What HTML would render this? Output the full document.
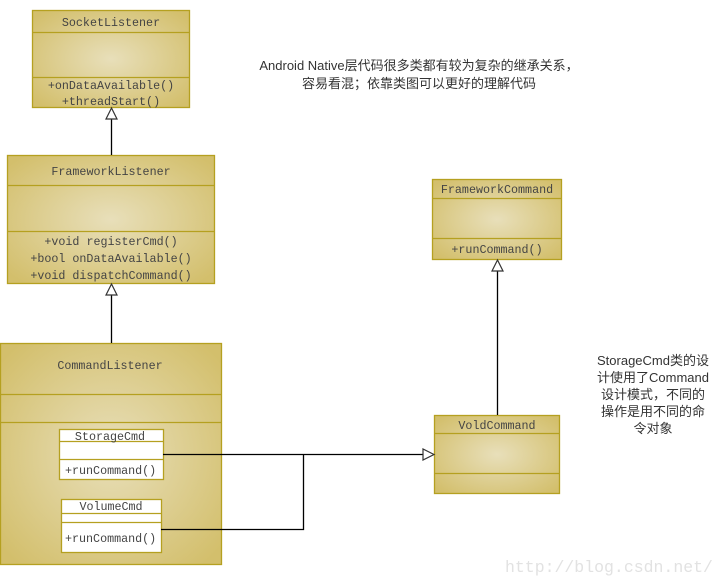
<!DOCTYPE html>
<html><head><meta charset="utf-8"><style>body{margin:0;background:#fff}svg{display:block}</style></head><body>
<svg width="726" height="586" xmlns="http://www.w3.org/2000/svg" font-family="'Liberation Mono','Noto Sans CJK SC',monospace" font-size="11.7" fill="#444">
<defs>
<radialGradient id="g" cx="50%" cy="50%" r="65%"><stop offset="0" stop-color="#e8dfba"/><stop offset="1" stop-color="#d3bf6c"/></radialGradient>
</defs>
<g stroke="#b5a020" stroke-width="1.3">
<rect x="32.5" y="10.5" width="157" height="97" fill="url(#g)"/>
<line x1="32" y1="32.5" x2="190" y2="32.5"/><line x1="32" y1="77.5" x2="190" y2="77.5"/>
<rect x="7.5" y="155.5" width="207" height="128" fill="url(#g)"/>
<line x1="7" y1="185.5" x2="215" y2="185.5"/><line x1="7" y1="231.5" x2="215" y2="231.5"/>
<rect x="0.5" y="343.5" width="221" height="221" fill="url(#g)"/>
<line x1="0" y1="394.5" x2="222" y2="394.5"/><line x1="0" y1="422.5" x2="222" y2="422.5"/>
<rect x="59.5" y="429.5" width="104" height="50" fill="#fff"/>
<line x1="59" y1="441.5" x2="164" y2="441.5"/><line x1="59" y1="459.5" x2="164" y2="459.5"/>
<rect x="61.5" y="499.5" width="100" height="53" fill="#fff"/>
<line x1="61" y1="513.5" x2="162" y2="513.5"/><line x1="61" y1="522.5" x2="162" y2="522.5"/>
<rect x="432.5" y="179.5" width="129" height="80" fill="url(#g)"/>
<line x1="432" y1="198.5" x2="562" y2="198.5"/><line x1="432" y1="238.5" x2="562" y2="238.5"/>
<rect x="434.5" y="415.5" width="125" height="78" fill="url(#g)"/>
<line x1="434" y1="433.5" x2="560" y2="433.5"/><line x1="434" y1="473.5" x2="560" y2="473.5"/>
</g>
<g stroke="#000" stroke-width="1.3" fill="none">
<line x1="111.5" y1="119" x2="111.5" y2="155"/>
<line x1="111.5" y1="295" x2="111.5" y2="343"/>
<line x1="497.5" y1="271" x2="497.5" y2="415"/>
<polyline points="163,454.5 423,454.5"/>
<polyline points="161,529.5 303.5,529.5 303.5,454"/>
</g>
<g stroke="#333" stroke-width="1.2" fill="#fff">
<polygon points="111.5,108 106,119 117,119"/>
<polygon points="111.5,284 106,295 117,295"/>
<polygon points="497.5,260 492,271 503,271"/>
<polygon points="434,454.5 423,449 423,460"/>
</g>
<g text-anchor="middle">
<text x="111" y="26">SocketListener</text>
<text x="111" y="89">+onDataAvailable()</text>
<text x="111" y="105">+threadStart()</text>
<text x="111" y="175">FrameworkListener</text>
<text x="111" y="245">+void registerCmd()</text>
<text x="111" y="262">+bool onDataAvailable()</text>
<text x="111" y="279">+void dispatchCommand()</text>
<text x="110" y="369">CommandListener</text>
<text x="110" y="440">StorageCmd</text>
<text x="111" y="510">VolumeCmd</text>
<text x="497" y="193">FrameworkCommand</text>
<text x="497" y="253">+runCommand()</text>
<text x="497" y="429">VoldCommand</text>
</g>
<text x="65" y="474">+runCommand()</text>
<text x="65" y="542">+runCommand()</text>
<g font-family="'Liberation Sans','Noto Sans CJK SC',sans-serif" font-size="13" fill="#333" text-anchor="middle">
<text x="419" y="70">Android  Native层代码很多类都有较为复杂的继承关系，</text>
<text x="419" y="88">容易看混；依靠类图可以更好的理解代码</text>
<text x="653" y="365">StorageCmd类的设</text>
<text x="653" y="382">计使用了Command</text>
<text x="653" y="399">设计模式，不同的</text>
<text x="653" y="416">操作是用不同的命</text>
<text x="653" y="433">令对象</text>
</g>
<text x="505" y="572" font-size="16.5" fill="#e2e2e2">http://blog.csdn.net/</text>
</svg>
</body></html>
